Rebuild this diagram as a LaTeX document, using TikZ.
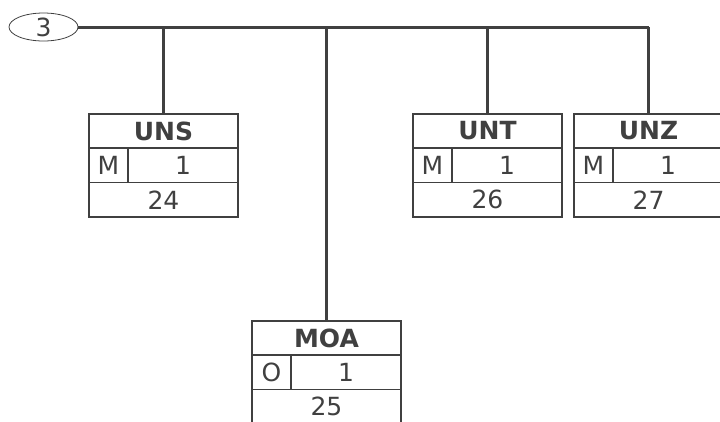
\documentclass[tikz,border=0pt]{standalone}
\usepackage{fontspec}
\setmainfont{DejaVu Sans}
\usepackage{tikz}
\usetikzlibrary{positioning,shapes.geometric}

\definecolor{segline}{HTML}{404040}
\tikzset{
  segcell/.style={draw=segline, line width=1.8pt, text=segline, inner sep=0pt,
    outer sep=0pt, minimum height=34.5pt, font=\fontsize{25}{30}\selectfont},
  segtitle/.style={segcell, minimum width=149pt, minimum height=34pt,
    font=\fontsize{25}{30}\selectfont\bfseries},
  segflag/.style={segcell, minimum width=39pt},
  segcount/.style={segcell, minimum width=110pt},
  segpos/.style={segcell, minimum width=149pt},
  bus/.style={draw=segline, line width=3pt},
}

\begin{document}
\begin{tikzpicture}[x=1pt, y=-1pt]
\clip (0,0) rectangle (720,421);

\node[ellipse, draw=segline, line width=0.8pt, text=segline, inner sep=0pt,
  outer sep=0pt, minimum width=69pt, minimum height=28pt,
  font=\fontsize{25}{30}\selectfont] (grp) at (43.5,27) {3};

% UNS
\node[segtitle, anchor=north west] (uns) at (89,114) {UNS};
\node[segflag, anchor=north west] (uns-st) at (uns.south west) {M};
\node[segcount, anchor=north west] (uns-rep) at (uns-st.north east) {1};
\node[segpos, anchor=north west] (uns-pos) at (uns-st.south west) {24};
\draw[bus] (uns.north) -- (uns.north |- grp.east);

% MOA
\node[segtitle, anchor=north west] (moa) at (252,321) {MOA};
\node[segflag, anchor=north west] (moa-st) at (moa.south west) {O};
\node[segcount, anchor=north west] (moa-rep) at (moa-st.north east) {1};
\node[segpos, anchor=north west] (moa-pos) at (moa-st.south west) {25};
\draw[bus] (moa.north) -- (moa.north |- grp.east);

% UNT
\node[segtitle, anchor=north west] (unt) at (413,114) {UNT};
\node[segflag, anchor=north west] (unt-st) at (unt.south west) {M};
\node[segcount, anchor=north west] (unt-rep) at (unt-st.north east) {1};
\node[segpos, anchor=north west] (unt-pos) at (unt-st.south west) {26};
\draw[bus] (unt.north) -- (unt.north |- grp.east);

% UNZ
\node[segtitle, anchor=north west] (unz) at (574,114) {UNZ};
\node[segflag, anchor=north west] (unz-st) at (unz.south west) {M};
\node[segcount, anchor=north west] (unz-rep) at (unz-st.north east) {1};
\node[segpos, anchor=north west] (unz-pos) at (unz-st.south west) {27};
\coordinate (busend) at (unz.north |- grp.east);
\draw[bus] (unz.north) -- (busend);

\draw[bus] (grp.east) -- (busend);
\end{tikzpicture}
\end{document}
